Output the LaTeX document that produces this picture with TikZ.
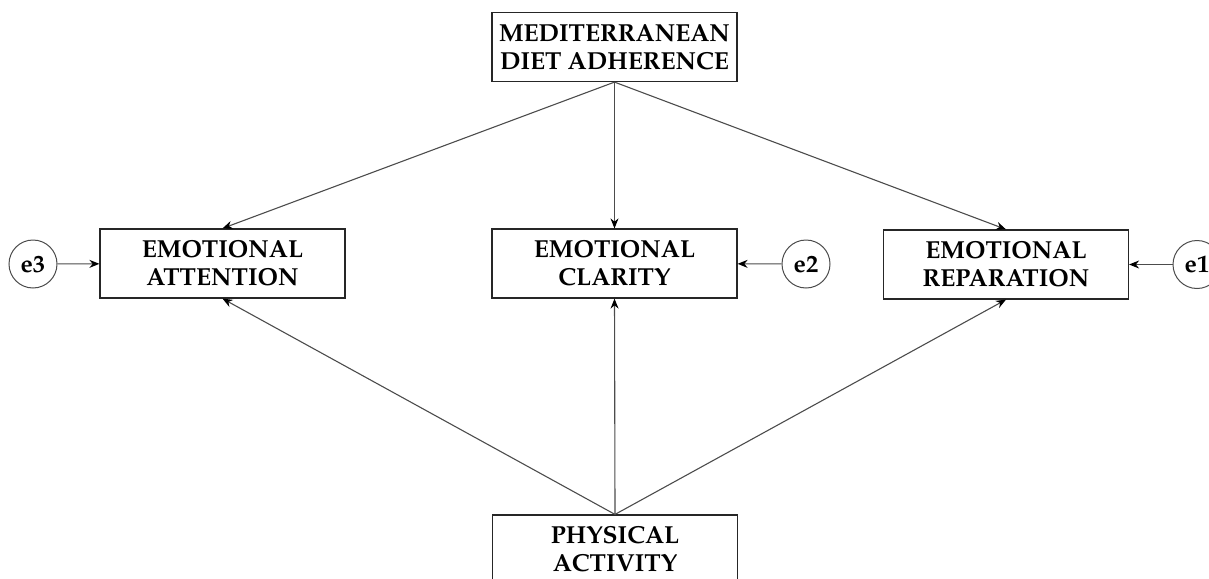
\documentclass[tikz,border=0pt]{standalone}
\usepackage[T1]{fontenc}
\usepackage{mathpazo}
\usepackage{tikz}
\usetikzlibrary{arrows.meta}
\tikzset{
  var/.style={draw=black!85, line width=0.6pt, minimum width=122.5pt, minimum height=34.5pt, inner sep=0pt, align=center, font=\bfseries\fontsize{12.3}{14}\selectfont},
  err/.style={circle, draw=black!70, line width=0.5pt, minimum size=24pt, inner sep=0pt, font=\bfseries\fontsize{12.3}{14}\selectfont},
  arr/.style={draw=black!70, line width=0.55pt, -{Stealth[length=5pt,width=4pt,color=black]}}
}

\begin{document}
\begin{tikzpicture}[x=0.5pt, y=-0.5pt]
    \useasboundingbox (0,0) rectangle (1209,578);
    \node[var] (med) at (614.5,47) {MEDITERRANEAN\\DIET ADHERENCE};
    \node[var] (att) at (222.5,263.5) {EMOTIONAL\\ATTENTION};
    \node[var] (cla) at (614.5,263.5) {EMOTIONAL\\CLARITY};
    \node[var] (rep) at (1006,264.5) {EMOTIONAL\\REPARATION};
    \node[var] (pa) at (615,549.5) {PHYSICAL\\ACTIVITY};
    \node[err] (e3) at (33,264) {e3};
    \node[err] (e2) at (806,264) {e2};
    \node[err] (e1) at (1197,264.5) {e1};
    \draw[arr] (med.south) -- (att.north);
    \draw[arr] (med.south) -- (cla.north);
    \draw[arr] (med.south) -- (rep.north);
    \draw[arr] (pa.north) -- (att.south);
    \draw[arr] (pa.north) -- (cla.south);
    \draw[arr] (pa.north) -- (rep.south);
    \draw[arr] (e3) -- (att);
    \draw[arr] (e2) -- (cla);
    \draw[arr] (e1) -- (rep);
\end{tikzpicture}
\end{document}
